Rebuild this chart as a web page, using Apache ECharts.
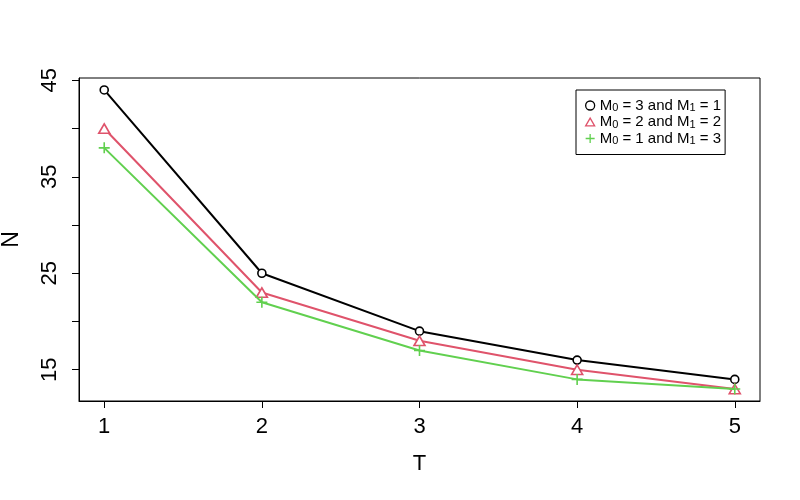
<!DOCTYPE html>
<html><head><meta charset="utf-8">
<script src="https://cdn.jsdelivr.net/npm/echarts@6/dist/echarts.min.js"></script>
<style>html,body{margin:0;padding:0;background:#fff}#c{width:800px;height:500px}</style>
</head><body><div id="c"></div>
<script>
const tValues = [1, 2, 3, 4, 5];
const nM3M1 = [44, 25, 19, 16, 14];
const nM2M2 = [40, 23, 18, 15, 13];
const nM1M3 = [38, 22, 17, 14, 13];
const xTicks = [1, 2, 3, 4, 5];
const yTicks = [15, 20, 25, 30, 35, 40, 45];
const yLabels = [15, 25, 35, 45];
const legendM0 = [3, 2, 1];
const legendM1 = [1, 2, 3];
const seriesNames = ['s1', 's2', 's3'];

const FONT = '"Liberation Sans", Arial, Helvetica, sans-serif';
const colors = ['#000000', '#DF536B', '#61D04F'];
const triPath = 'path://M5,0L10,8.66L0,8.66Z';
const plusPath = 'path://M5,0L5,10M0,5L10,5';
const symbols = ['circle', triPath, plusPath];
const symSizes = [8, [11, 9.5], 11];
const values = [nM3M1, nM2M2, nM1M3];

const chart = echarts.init(document.getElementById('c'), null, {renderer: 'canvas'});

const series = values.map((vals, k) => ({
  name: seriesNames[k],
  type: 'line',
  data: tValues.map((t, i) => [t, vals[i]]),
  symbol: symbols[k],
  symbolSize: symSizes[k],
  showSymbol: true,
  lineStyle: {color: colors[k], width: 2},
  itemStyle: {color: '#fff', borderColor: colors[k], borderWidth: 1.6},
  emphasis: {disabled: true},
  silent: true,
  z: 2 + k
}));

const option = {
  animation: false,
  backgroundColor: '#fff',
  grid: {left: 79, right: 40, top: 78, bottom: 99, show: true, borderColor: '#000', borderWidth: 1,
         backgroundColor: 'transparent', containLabel: false, outerBoundsMode: 'none'},
  xAxis: {
    type: 'value', min: 0.84, max: 5.16,
    name: 'T', nameLocation: 'middle', nameGap: 52,
    nameTextStyle: {fontFamily: FONT, fontSize: 22, color: '#000'},
    axisLine: {show: true, onZero: false, lineStyle: {color: '#000', width: 1}},
    axisTick: {show: true, length: 7, customValues: xTicks, lineStyle: {color: '#000'}},
    axisLabel: {customValues: xTicks, margin: 15, fontFamily: FONT, fontSize: 22, color: '#000'},
    splitLine: {show: false}
  },
  yAxis: {
    type: 'value', min: 11.76, max: 45.24,
    name: 'N', nameLocation: 'middle', nameGap: 56, nameRotate: 90,
    nameTextStyle: {fontFamily: FONT, fontSize: 23, color: '#000'},
    axisLine: {show: true, onZero: false, lineStyle: {color: '#000', width: 1}},
    axisTick: {show: true, length: 7, customValues: yTicks, lineStyle: {color: '#000'}},
    axisLabel: {customValues: yLabels, rotate: 90, margin: 18, fontFamily: FONT, fontSize: 22, color: '#000'},
    splitLine: {show: false}
  },
  legend: {
    orient: 'vertical', left: 576, top: 90,
    padding: [8, 4, 8, 9],
    itemGap: 1, itemWidth: 9, itemHeight: 9,
    borderColor: '#000', borderWidth: 1, borderRadius: 0,
    backgroundColor: '#fff',
    selectedMode: false,
    data: seriesNames.map((n, k) => ({
      name: n, icon: symbols[k],
      itemStyle: {color: '#fff', borderColor: colors[k], borderWidth: 1.3}
    })),
    formatter: function (name) {
      const k = seriesNames.indexOf(name);
      return '{n|M}{s|0}{n| = ' + legendM0[k] + ' and M}{s|1}{n| = ' + legendM1[k] + '}';
    },
    textStyle: {
      fontFamily: FONT, fontSize: 15, color: '#000',
      rich: {
        n: {fontFamily: FONT, fontSize: 15, lineHeight: 16, color: '#000'},
        s: {fontFamily: FONT, fontSize: 11, lineHeight: 10, verticalAlign: 'bottom', color: '#000'}
      }
    }
  },
  series: series
};
chart.setOption(option);
</script>
</body></html>
